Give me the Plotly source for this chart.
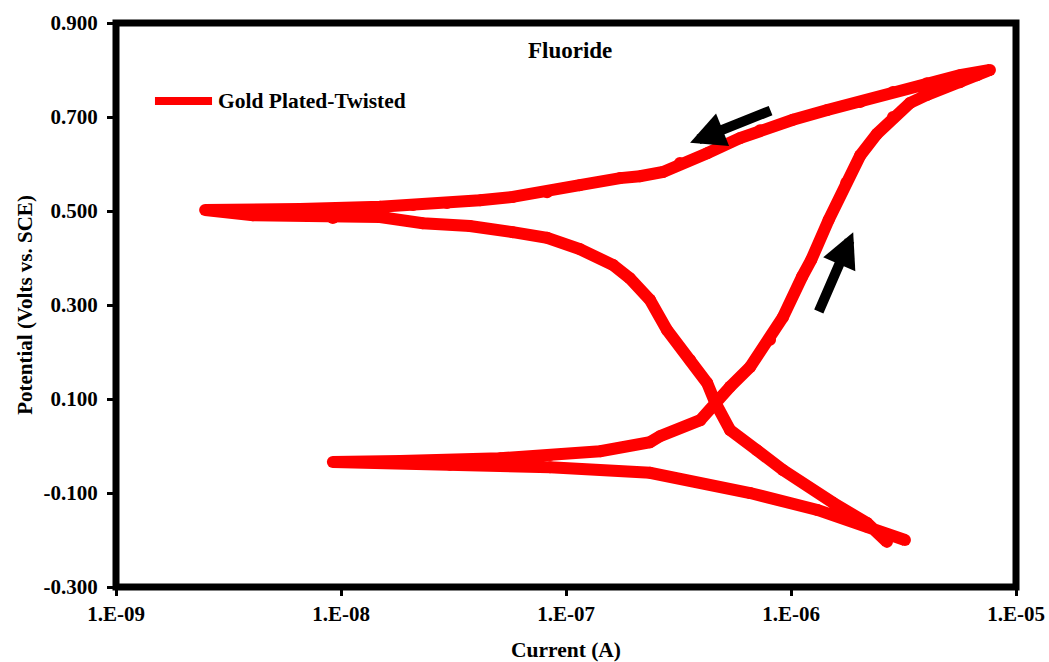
import plotly.graph_objects as go
import numpy as np

# Cyclic polarization curve (Current in A, Potential in V vs SCE), in scan order
current = [
    # initial cathodic branch -> Ecorr
    3.21e-6, 2.18e-6, 1.31e-6, 6.58e-7, 2.36e-7, 8.49e-8, 3.05e-8, 9.2e-9,
    # forward anodic branch
    1.83e-8, 5.09e-8, 8.49e-8, 1.42e-7, 2.36e-7, 2.62e-7, 3.95e-7, 4.59e-7,
    5.36e-7, 6.58e-7, 8.07e-7, 9.2e-7, 1.12e-6, 1.23e-6, 1.47e-6, 1.76e-6,
    2.03e-6, 2.41e-6, 2.84e-6, 3.38e-6, 4.02e-6, 4.74e-6, 5.64e-6, 6.72e-6,
    7.66e-6,
    # reverse scan, upper branch
    5.64e-6, 4.02e-6, 2.84e-6, 2.03e-6, 1.45e-6, 1.02e-6, 7.28e-7, 5.93e-7,
    4.24e-7, 3.21e-7, 2.70e-7, 2.13e-7, 1.74e-7, 1.15e-7, 8.24e-8, 5.80e-8,
    4.15e-8, 2.96e-8, 2.09e-8, 1.49e-8, 6.58e-9, 2.49e-9,
    # reverse scan, cathodic branch
    4.06e-9, 9.2e-9, 1.49e-8, 2.31e-8, 3.74e-8, 5.80e-8, 8.24e-8, 1.15e-7,
    1.62e-7, 1.92e-7, 2.36e-7, 2.81e-7, 3.56e-7, 4.24e-7, 4.59e-7, 5.36e-7,
    7.06e-7, 9.2e-7, 1.54e-6, 2.18e-6, 2.67e-6,
]
potential = [
    -0.200, -0.172, -0.136, -0.100, -0.057, -0.045, -0.040, -0.034,
    -0.032, -0.026, -0.019, -0.011, 0.008, 0.021, 0.055, 0.094,
    0.126, 0.168, 0.226, 0.274, 0.360, 0.396, 0.481, 0.560,
    0.618, 0.664, 0.700, 0.730, 0.747, 0.762, 0.774, 0.789,
    0.800,
    0.789, 0.772, 0.753, 0.732, 0.715, 0.694, 0.672, 0.655,
    0.623, 0.602, 0.583, 0.574, 0.570, 0.555, 0.540, 0.530,
    0.523, 0.517, 0.513, 0.509, 0.504, 0.502,
    0.491, 0.485, 0.487, 0.474, 0.468, 0.455, 0.443, 0.419,
    0.385, 0.357, 0.311, 0.247, 0.183, 0.134, 0.094, 0.034,
    -0.009, -0.051, -0.121, -0.164, -0.204,
]

series_name = "Gold Plated-Twisted"
chart_title = "Fluoride"
x_tick_vals = [1e-9, 1e-8, 1e-7, 1e-6, 1e-5]
x_tick_text = ["1.E-09", "1.E-08", "1.E-07", "1.E-06", "1.E-05"]
y_tick_vals = [-0.3, -0.1, 0.1, 0.3, 0.5, 0.7, 0.9]
y_tick_text = ["-0.300", "-0.100", "0.100", "0.300", "0.500", "0.700", "0.900"]

# scan-direction arrows: (tail current, tail potential) -> (head current, head potential)
arrow_tails = [(8.24e-7, 0.715), (1.32e-6, 0.283)]
arrow_heads = [(3.56e-7, 0.645), (1.89e-6, 0.455)]

FONT = "Liberation Serif"
RED = "#ff0000"

fig = go.Figure()
fig.add_trace(go.Scatter(
    x=current, y=potential, mode="lines+markers", name=series_name,
    line=dict(color=RED, width=12),
    marker=dict(color=RED, size=12),
    showlegend=False,
))

for (tx, ty), (hx, hy) in zip(arrow_tails, arrow_heads):
    fig.add_annotation(
        x=np.log10(hx), y=hy, ax=np.log10(tx), ay=ty,
        xref="x", yref="y", axref="x", ayref="y",
        text="", showarrow=True, arrowhead=2, arrowsize=0.7,
        arrowwidth=10, arrowcolor="black",
    )

# chart title
fig.add_annotation(
    x=0.504, y=0.952, xref="paper", yref="paper", text=chart_title,
    xanchor="center", yanchor="middle",
    showarrow=False, font=dict(family=FONT, size=23, color="black", weight="bold"),
)

# legend (drawn manually to match the long sample line)
fig.add_shape(type="line", xref="paper", yref="paper",
              x0=0.0433, x1=0.1067, y0=0.8617, y1=0.8617,
              line=dict(color=RED, width=8))
fig.add_annotation(
    x=0.111, y=0.8617, xref="paper", yref="paper", text=series_name,
    xanchor="left", yanchor="middle", showarrow=False,
    font=dict(family=FONT, size=21.5, color="black", weight="bold"),
)

# plot-area frame
fig.add_shape(type="rect", xref="paper", yref="paper", x0=0, x1=1, y0=0, y1=1,
              line=dict(color="black", width=7), layer="above")

fig.update_layout(
    width=1049, height=662,
    margin=dict(l=116, r=33, t=23, b=75),
    paper_bgcolor="white", plot_bgcolor="white",
    font=dict(family=FONT, size=21, color="black", weight="bold"),
    showlegend=False,
    xaxis=dict(
        type="log", range=[-9, -5], tickvals=x_tick_vals, ticktext=x_tick_text,
        showgrid=False, zeroline=False, showline=False, automargin=False,
        ticks="outside", ticklen=8, tickwidth=3, tickcolor="black",
        tickfont=dict(size=21, weight="bold"),
        title=dict(text="Current (A)", font=dict(size=21.5, weight="bold"), standoff=18),
    ),
    yaxis=dict(
        range=[-0.3, 0.9], tickvals=y_tick_vals, ticktext=y_tick_text,
        showgrid=False, zeroline=False, showline=False, automargin=False,
        ticks="outside", ticklen=8, tickwidth=3, tickcolor="black",
        ticklabelstandoff=5,
        tickfont=dict(size=21, weight="bold"),
        title=dict(text="Potential (Volts vs. SCE)", font=dict(size=21, weight="bold"), standoff=5),
    ),
)

fig.write_html("out.html")
